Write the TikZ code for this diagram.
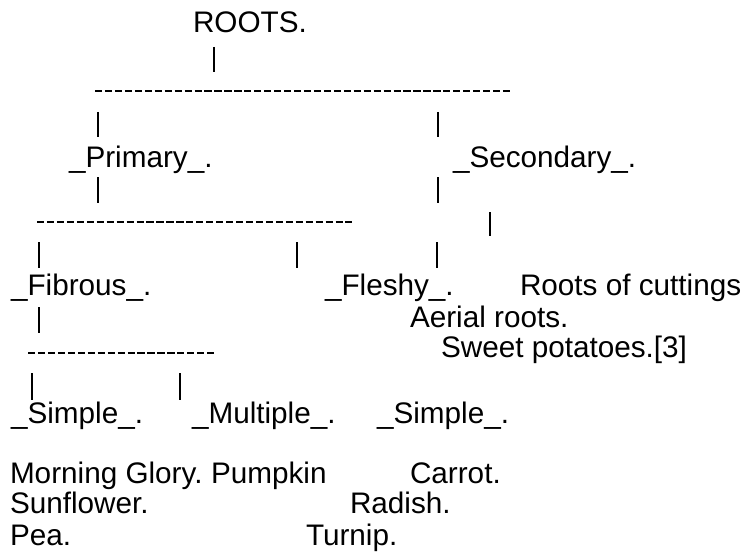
\documentclass[tikz,border=0pt]{standalone}
\usepackage{fontspec}
\setmainfont{Liberation Sans}
\begin{document}
\begin{tikzpicture}[x=1pt,y=-1pt,
  txt/.style={anchor=base west,inner sep=0pt,outer sep=0pt,font=\fontsize{29.7}{32}\selectfont},
  barline/.style={line width=2.3pt},
  dashline/.style={line width=2.4pt,dash pattern=on 7.2pt off 2.75pt}]
\useasboundingbox (0,0) rectangle (741,559);
% labels
\node[txt] (roots) at (193,33) {ROOTS.};
\node[txt] (primary) at (69,167) {\_Primary\_.};
\node[txt] (secondary) at (453,167) {\_Secondary\_.};
\node[txt] (fibrous) at (11,295) {\_Fibrous\_.};
\node[txt] (fleshy) at (325,295) {\_Fleshy\_.};
\node[txt] (cuttings) at (520,295) {Roots of cuttings};
\node[txt] (aerial) at (410,327) {Aerial roots.};
\node[txt] (sweet) at (441,357) {Sweet potatoes.[3]};
\node[txt] (simpleA) at (11,423) {\_Simple\_.};
\node[txt] (multiple) at (192,423) {\_Multiple\_.};
\node[txt] (simpleB) at (377,423) {\_Simple\_.};
\node[txt] (morning) at (10,483) {Morning Glory.};
\node[txt] (pumpkin) at (211,483) {Pumpkin};
\node[txt] (carrot) at (410,483) {Carrot.};
\node[txt] (sunflower) at (10,513) {Sunflower.};
\node[txt] (radish) at (350,513) {Radish.};
\node[txt] (pea) at (10,545) {Pea.};
\node[txt] (turnip) at (306,545) {Turnip.};
% connector points
\coordinate (b1t) at (214,47);  \coordinate (b1b) at (214,72);
\coordinate (d1l) at (95,91);   \coordinate (d1r) at (510.2,91);
\coordinate (b2t) at (98,112);  \coordinate (b2b) at (98,137);
\coordinate (b3t) at (438,112); \coordinate (b3b) at (438,137);
\coordinate (b4t) at (98,177);  \coordinate (b4b) at (98,203);
\coordinate (b5t) at (438,177); \coordinate (b5b) at (438,203);
\coordinate (d2l) at (37,222);  \coordinate (d2r) at (352,222);
\coordinate (b6t) at (490,212); \coordinate (b6b) at (490,236);
\coordinate (b7t) at (39,242);  \coordinate (b7b) at (39,268);
\coordinate (b8t) at (297,242); \coordinate (b8b) at (297,268);
\coordinate (b9t) at (437,242); \coordinate (b9b) at (437,268);
\coordinate (b10t) at (39,307); \coordinate (b10b) at (39,333);
\coordinate (d3l) at (28,353);  \coordinate (d3r) at (215,353);
\coordinate (b11t) at (32,373); \coordinate (b11b) at (32,400);
\coordinate (b12t) at (180,373); \coordinate (b12b) at (180,400);
% connectors
\draw[barline] (b1t) -- (b1b);
\draw[dashline] (d1l) -- (d1r);
\draw[barline] (b2t) -- (b2b);
\draw[barline] (b3t) -- (b3b);
\draw[barline] (b4t) -- (b4b);
\draw[barline] (b5t) -- (b5b);
\draw[dashline] (d2l) -- (d2r);
\draw[barline] (b6t) -- (b6b);
\draw[barline] (b7t) -- (b7b);
\draw[barline] (b8t) -- (b8b);
\draw[barline] (b9t) -- (b9b);
\draw[barline] (b10t) -- (b10b);
\draw[dashline] (d3l) -- (d3r);
\draw[barline] (b11t) -- (b11b);
\draw[barline] (b12t) -- (b12b);
\end{tikzpicture}
\end{document}
